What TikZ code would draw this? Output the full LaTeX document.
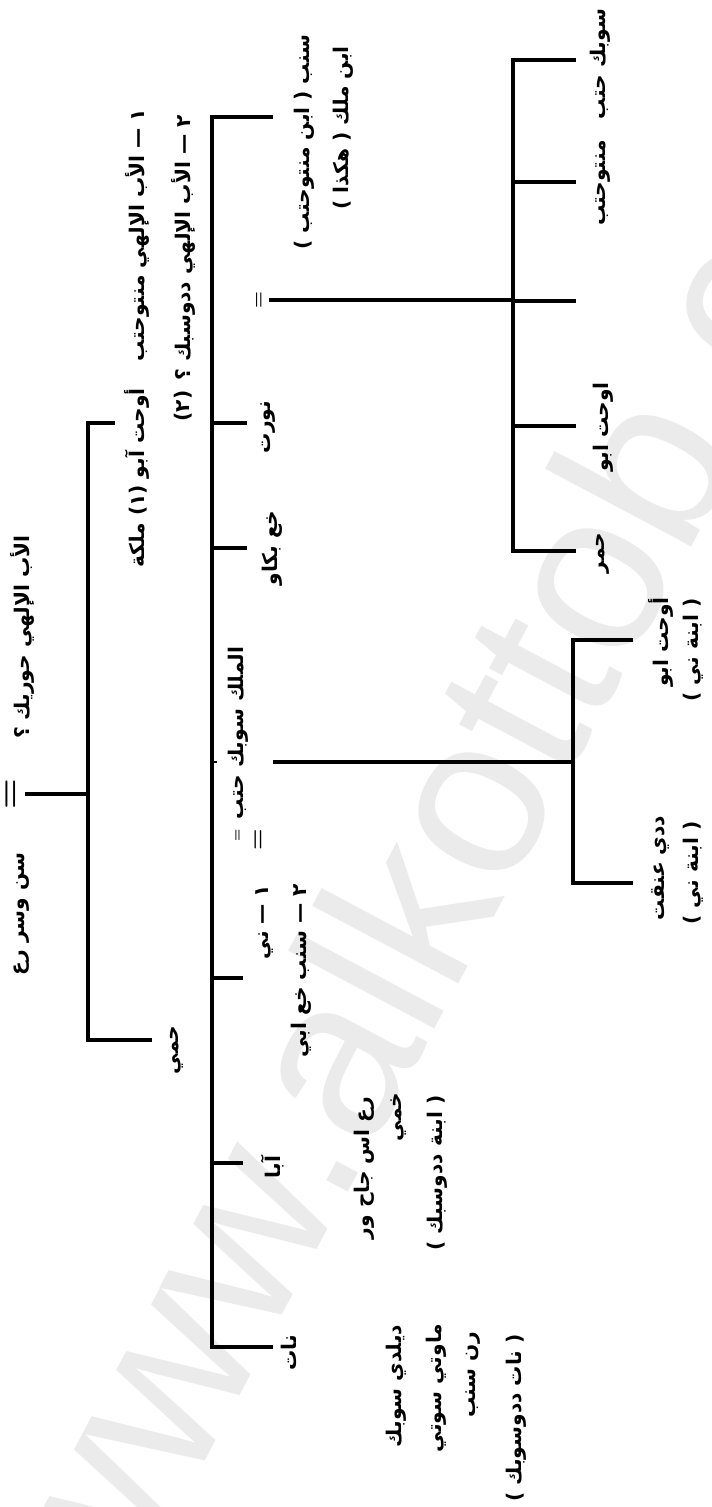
\documentclass[tikz,border=0pt]{standalone}
\usepackage{fontspec}
\newfontfamily\arabicfont[Script=Arabic]{DejaVu Sans}
\newfontfamily\markfont{Liberation Sans}
\TeXXeTstate=1
\tikzset{
  tag/.style={rotate=90, inner sep=0pt, font=\arabicfont\bfseries\fontsize{11.5}{14}\selectfont},
  wed/.style={rotate=90, inner sep=0pt, font=\bfseries\fontsize{#1}{#1}\selectfont},
  branch/.style={line width=1.9pt},
  stamp/.style={rotate=62, inner sep=0pt, text=black!8, font=\markfont\fontsize{130}{130}\selectfont},
}
\begin{document}
\begin{tikzpicture}[x=0.02cm, y=-0.02cm]
\useasboundingbox (0,0) rectangle (712,1507);
\node[stamp] (wm) at (472,785) {www.alkottob.com};

% first generation
\node[tag] (horik) at (22,637) {\beginR الأب الإلهي حوريك ؟\endR};
\node[wed=20] (eqa) at (13,794) {=};
\node[tag] (senwosret) at (22,914) {\beginR سن وسر رع\endR};
\coordinate (b1t) at (88,423);
\coordinate (b1b) at (88,1040);
\coordinate (to-okht) at (115,423);
\coordinate (to-hemi) at (152,1040);
\draw[branch, shorten <=3pt] (eqa) -- (b1t |- eqa);
\draw[branch] (to-okht) -- (b1t) -- (b1b) -- (to-hemi);
\node[tag] (fna) at (137,235) {\beginR ١ — الأب الإلهي منتوحتب\endR};
\node[tag] (fnb) at (183,248) {\beginR ٢ — الأب الإلهي ددوسبك ؟\endR};
\node[tag] (okht) at (137,478) {\beginR أوحت آبو (١) ملكة\endR};
\node[tag] (fnmark) at (183,406) {\beginR (٢)\endR};
\node[tag] (hemi) at (177,1050) {\beginR حمي\endR};

% children of okht
\coordinate (b2t) at (212,117);
\coordinate (b2b) at (212,1347);
\coordinate (to-seneb) at (273,117);
\coordinate (to-nat) at (273,1347);
\coordinate (to-nwrt) at (247,423);
\coordinate (to-khabkaw) at (247,548);
\coordinate (to-ni) at (243,978);
\coordinate (to-aba) at (243,1163);
\coordinate (nick) at (217,762);
\draw[branch] (to-seneb) -- (b2t) -- (b2b) -- (to-nat);
\foreach \c in {nwrt,khabkaw,ni,aba}
  \draw[branch] (b2t |- to-\c) -- (to-\c);
\draw[line width=1pt] (b2t |- nick) -- (nick);
\node[tag] (seneb) at (304,142) {\beginR سنب ( ابن منتوحتب )\endR};
\node[tag] (malik) at (343,128) {\beginR ابن ملك ( هكذا )\endR};
\node[tag] (nwrt) at (268,427) {\beginR نورت\endR};
\node[tag] (khabkaw) at (272,548) {\beginR خع بكاو\endR};
\node[tag] (sobek) at (238,733) {\beginR الملك سوبك حتب\endR};
\node[wed=7] (eqb) at (238,835) {=};
\node[wed=14] (eqc) at (260,840) {=};
\node[tag] (ni) at (265,922) {\beginR ١ — ني\endR};
\node[tag] (senebb) at (301,971) {\beginR ٢ — سنب خع ابي\endR};
\node[tag] (aba) at (273,1167) {\beginR آبا\endR};
\node[tag] (ra) at (364,1168) {\beginR رع اس جاح ور\endR};
\node[tag] (khemi) at (399,1117) {\beginR خمي\endR};
\node[tag] (bintd) at (437,1173) {\beginR ( ابنة ددوسبك )\endR};
\node[tag] (nat) at (289,1353) {\beginR نات\endR};
\node[tag] (dildi) at (396,1386) {\beginR ديلدي سوبك\endR};
\node[tag] (mawti) at (436,1388) {\beginR ماوتي سوتي\endR};
\node[tag] (rensneb) at (473,1375) {\beginR رن سنب\endR};
\node[tag] (natdd) at (516,1418) {\beginR ( نات ددوسوبك )\endR};

% seneb's line
\node[wed=11] (eqd) at (260,300) {=};
\coordinate (b3t) at (513,60);
\coordinate (b3b) at (513,551);
\coordinate (to-souhak) at (576,60);
\coordinate (to-mentu) at (576,182);
\coordinate (to-blank) at (576,301);
\coordinate (to-okhtb) at (576,426);
\coordinate (to-hmr) at (576,551);
\draw[branch, shorten <=3pt] (eqd) -- (b3t |- eqd);
\draw[branch] (to-souhak) -- (b3t) -- (b3b) -- (to-hmr);
\foreach \c in {mentu,blank,okhtb}
  \draw[branch] (b3t |- to-\c) -- (to-\c);
\node[tag] (souhak) at (600,64) {\beginR سوبك حتب\endR};
\node[tag] (mentu) at (603,183) {\beginR منتوحتب\endR};
\node[tag] (okhtb) at (603,427) {\beginR اوحت ابو\endR};
\node[tag] (hmr) at (603,553) {\beginR حمر\endR};

% daughters of ni
\coordinate (from-sobek) at (273,762);
\coordinate (b4t) at (573,640);
\coordinate (b4b) at (573,883);
\coordinate (to-okhtc) at (633,640);
\coordinate (to-dedi) at (633,883);
\draw[branch] (from-sobek) -- (b4t |- from-sobek);
\draw[branch] (to-okhtc) -- (b4t) -- (b4b) -- (to-dedi);
\node[tag] (okhtc) at (661,642) {\beginR أوحت ابو\endR};
\node[tag] (bintn) at (693,650) {\beginR ( ابنة ني )\endR};
\node[tag] (dedi) at (661,868) {\beginR ددي عنقت\endR};
\node[tag] (bintm) at (693,873) {\beginR ( ابنة ني )\endR};
\end{tikzpicture}
\end{document}
